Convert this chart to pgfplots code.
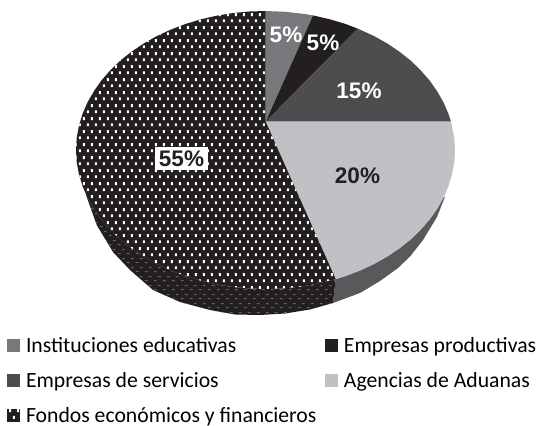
\documentclass[border=0pt]{standalone}
\usepackage{fontspec}
\setmainfont{Carlito}
\newfontfamily\labelfont{Liberation Sans}
\usepackage{pgfplots}
\pgfplotsset{compat=1.18}
\usetikzlibrary{patterns}

\definecolor{cinst}{HTML}{77787B}
\definecolor{cprod}{HTML}{231F20}
\definecolor{cserv}{HTML}{4D4D4F}
\definecolor{cagen}{HTML}{C0C1C5}
\definecolor{cside}{HTML}{58595B}
\definecolor{cdotside}{HTML}{636466}

\pgfdeclarepatternformonly{topdots}{\pgfqpoint{0pt}{0pt}}{\pgfqpoint{7.8pt}{13pt}}{\pgfqpoint{7.8pt}{13pt}}{
  \pgfpathrectangle{\pgfqpoint{1pt}{1pt}}{\pgfqpoint{2pt}{3pt}}
  \pgfpathrectangle{\pgfqpoint{4.9pt}{7.5pt}}{\pgfqpoint{2pt}{3pt}}
  \pgfusepath{fill}}
\pgfdeclarepatternformonly{sidedots}{\pgfqpoint{0pt}{0pt}}{\pgfqpoint{9pt}{9pt}}{\pgfqpoint{9pt}{9pt}}{
  \pgfpathrectangle{\pgfqpoint{1pt}{1pt}}{\pgfqpoint{3pt}{1.1pt}}
  \pgfpathrectangle{\pgfqpoint{5.5pt}{5.5pt}}{\pgfqpoint{3pt}{1.1pt}}
  \pgfusepath{fill}}

\begin{document}
\begin{tikzpicture}
  \begin{axis}[
    name=pie,
    width=539pt, height=426pt, scale only axis,
    xmin=0, xmax=539, ymin=0, ymax=426,
    y dir=reverse,
    hide axis,
    clip=false,
    legend columns=2,
    legend cell align=left,
    legend style={
      at={(axis cs:7,335.5)}, anchor=north west,
      draw=none, fill=none, inner sep=0pt, outer sep=0pt,
      font=\fontsize{21.7}{25}\selectfont,
      row sep=14.2pt,
      /tikz/every even column/.append style={column sep=6.5pt},
    },
    legend image code/.code={
      \path[#1,draw=none] (0pt,-6.7pt) rectangle (13.4pt,6.7pt);
      \path (17pt,0pt);
    },
  ]
    % rim of the pie, right part
    \addplot[fill=cside, draw=none, forget plot] coordinates {
      (445,196.7) (443.6,197.5) (437.2,208.7) (429.6,219.5) (420.7,229.7) (410.7,239.4)
      (399.5,248.3) (387.3,256.5) (374.2,263.9) (360.25,270.4) (345.6,276) (335.7,279.1)
      (333,303) (360,293) (380,281) (398,268) (410,256.5) (423,240) (437,217) (445,196.7)
    };
    % rim of the pie, dotted part
    \addplot[fill=cprod, draw=none, forget plot, postaction={pattern=sidedots, pattern color=cdotside}] coordinates {
      (335.7,279.1) (314.5,284.3) (298.4,286.9) (282,288.5) (265.5,289) (249,288.5)
      (232.6,286.9) (216.5,284.3) (200.7,280.6) (185.4,276) (170.75,270.4) (156.8,263.9)
      (143.7,256.5) (131.5,248.3) (120.3,239.4) (110.3,229.7) (101.4,219.5) (93.8,208.7)
      (87.4,197.5) (86,195)
      (96.7,225) (113,252) (130,270) (153,290) (180,302) (210,310) (235,314.5) (260,315)
      (285,313.5) (310,309.5) (333,303)
    };

    % top face
    \addplot[fill=cinst, draw=none] coordinates {
      (265.7,121.7) (265.5,11) (285.3,11.8) (304.9,14) (313,15.4)
    };
    \addplot[fill=cprod, draw=none] coordinates {
      (265.7,121.7) (313,15.4) (330.3,19.4) (345.6,24) (357.7,28.6)
    };
    \addplot[fill=cserv, draw=none] coordinates {
      (265.7,121.7) (357.7,28.6) (374.2,36.1) (387.3,43.5) (399.5,51.7) (410.7,60.6)
      (420.7,70.3) (429.6,80.5) (437.2,91.3) (443.6,102.5) (448.5,114) (451,121.7)
    };
    \addplot[fill=cagen, draw=none] coordinates {
      (265.7,121.7) (451,121.7) (454.3,137.9) (455,150) (454.3,162.1) (452.1,174.1)
      (448.5,186) (443.6,197.5) (437.2,208.7) (429.6,219.5) (420.7,229.7) (410.7,239.4)
      (399.5,248.3) (387.3,256.5) (374.2,263.9) (360.25,270.4) (345.6,276) (335.7,279.1)
    };
    \addplot[fill=cprod, draw=none, postaction={pattern=topdots, pattern color=white}] coordinates {
      (265.7,121.7) (335.7,279.1) (314.5,284.3) (298.4,286.9) (282,288.5) (265.5,289)
      (249,288.5) (232.6,286.9) (216.5,284.3) (200.7,280.6) (185.4,276) (170.75,270.4)
      (156.8,263.9) (143.7,256.5) (131.5,248.3) (120.3,239.4) (110.3,229.7) (101.4,219.5)
      (93.8,208.7) (87.4,197.5) (82.5,186) (78.9,174.1) (76.7,162.1) (76,150) (76.7,137.9)
      (78.9,125.9) (82.5,114) (87.4,102.5) (93.8,91.3) (101.4,80.5) (110.3,70.3) (120.3,60.6)
      (131.5,51.7) (143.7,43.5) (156.8,36.1) (170.75,29.6) (185.4,24) (200.7,19.4)
      (216.5,15.7) (232.6,13.1) (249,11.5) (265.5,11)
    };

    \legend{Instituciones educativas, Empresas productivas, Empresas de servicios,
      Agencias de Aduanas, Fondos económicos y financieros}

    % percentages
    \begin{scope}[every node/.style={font=\labelfont\bfseries\fontsize{22.5}{25}\selectfont}]
      \node[text=white] at (axis cs:286,35) {5\%};
      \node[text=white] at (axis cs:323,43) {5\%};
      \node[text=white] at (axis cs:359,91) {15\%};
      \node[text=cprod] at (axis cs:357.5,175.5) {20\%};
      \node[fill=white, text=cprod, inner xsep=4pt, inner ysep=3.5pt] at (axis cs:181.5,158.5) {55\%};
    \end{scope}
  \end{axis}
  % page is exactly the size of the reference
  \pgfresetboundingbox
  \path (pie.south west) rectangle (pie.north east);
\end{tikzpicture}
\end{document}
